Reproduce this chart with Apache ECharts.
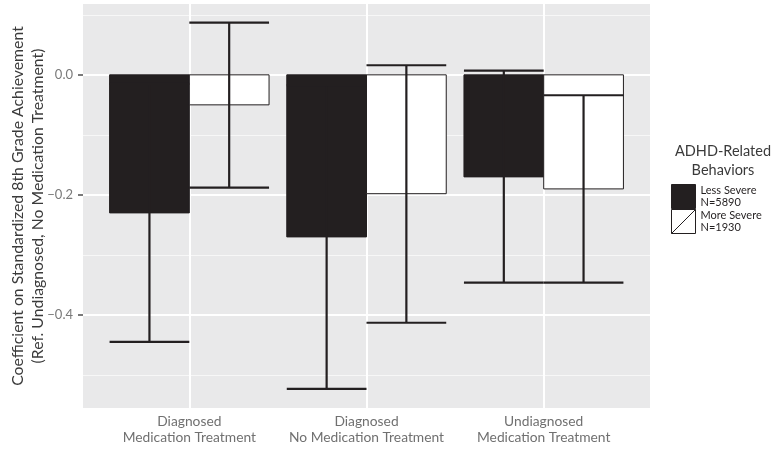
<!DOCTYPE html>
<html>
<head>
<meta charset="utf-8">
<script src="https://cdn.jsdelivr.net/npm/echarts@6/dist/echarts.min.js"></script>
<style>
  html, body { margin: 0; padding: 0; background: #fff; }
  #chart { width: 771px; height: 451px; }
</style>
</head>
<body>
<div id="chart"></div>
<script>
// categories and estimates
const categories = [
  'Diagnosed\nMedication Treatment',
  'Diagnosed\nNo Medication Treatment',
  'Undiagnosed\nMedication Treatment'
]
const categoryPos = [1, 2, 3]
const lessSevere = [-0.23, -0.27, -0.17]
const lessLower = [-0.445, -0.523, -0.346]
const lessUpper = [-0.015, -0.017, 0.007]
const moreSevere = [-0.05, -0.198, -0.19]
const moreLower = [-0.188, -0.413, -0.346]
const moreUpper = [0.087, 0.016, -0.034]
const majorTicks = [0, -0.2, -0.4]
const minorTicks = [0.1, -0.1, -0.3, -0.5]

const lessName = 'Less Severe\nN=5890'
const moreName = 'More Severe\nN=1930'
const ink = '#231f20'
const dodge = 0.225
const barW = 0.45

const chart = echarts.init(document.getElementById('chart'))

// bar drawn from 0 to value, shifted by offset inside the category
const barRenderer = (offset, fill) => (params, api) => {
  const x = api.value(0) + offset
  const p0 = api.coord([x - barW / 2, 0])
  const p1 = api.coord([x + barW / 2, api.value(1)])
  return {
    type: 'rect',
    shape: { x: p0[0], y: Math.min(p0[1], p1[1]), width: p1[0] - p0[0], height: Math.abs(p1[1] - p0[1]) },
    style: { fill: fill, stroke: ink, lineWidth: 1 }
  }
}

const errRenderer = (offset) => (params, api) => {
  const x = api.value(0) + offset
  const lo = api.coord([x, api.value(1)])
  const hi = api.coord([x, api.value(2)])
  const half = api.size([barW, 0])[0] / 2
  const st = { stroke: ink, lineWidth: 2.2 }
  return {
    type: 'group',
    children: [
      { type: 'line', shape: { x1: lo[0], y1: lo[1], x2: hi[0], y2: hi[1] }, style: st },
      { type: 'line', shape: { x1: lo[0] - half, y1: lo[1], x2: lo[0] + half, y2: lo[1] }, style: st },
      { type: 'line', shape: { x1: hi[0] - half, y1: hi[1], x2: hi[0] + half, y2: hi[1] }, style: st }
    ]
  }
}

const fmtY = (v) => (Math.abs(v) < 1e-9 ? '0.0' : v.toFixed(1).replace('-', '\u2212'))

const option = {
  animation: false,
  backgroundColor: '#ffffff',
  textStyle: { fontFamily: 'Lato, "Open Sans", sans-serif' },
  title: {
    text: 'ADHD-Related\nBehaviors',
    left: 718,
    top: 137,
    textAlign: 'center',
    textStyle: { fontSize: 14.5, fontWeight: 'normal', color: '#3a3a3a', lineHeight: 19, fontFamily: 'Lato' }
  },
  legend: {
    orient: 'vertical',
    left: 671,
    top: 184,
    padding: 0,
    itemGap: 0,
    itemWidth: 24,
    itemHeight: 24,
    textStyle: { fontSize: 11, lineHeight: 12.5, color: ink, fontFamily: 'Lato' },
    data: [
      { name: lessName, icon: 'rect', itemStyle: { color: ink, borderColor: ink, borderWidth: 1 } },
      { name: moreName, icon: 'path://M0,0L24,0L24,24L0,24Z M0,24L24,0', itemStyle: { color: '#ffffff', borderColor: ink, borderWidth: 1 } }
    ]
  },
  grid: {
    left: 83,
    right: 121,
    top: 4,
    bottom: 43,
    outerBoundsMode: 'none',
    containLabel: false,
    show: true,
    backgroundColor: '#e9e9ea',
    borderWidth: 0
  },
  xAxis: {
    type: 'value',
    min: 0.4,
    max: 3.6,
    axisLine: { show: false },
    splitLine: { show: false },
    axisTick: { show: false },
    axisLabel: {
      customValues: categoryPos,
      formatter: (v) => categories[Math.round(v) - 1],
      fontSize: 13.8,
      lineHeight: 16,
      color: '#707070',
      margin: 6
    }
  },
  yAxis: {
    type: 'value',
    min: -0.555,
    max: 0.118,
    name: 'Coefficient on Standardized 8th Grade Achievement\n(Ref. Undiagnosed, No Medication Treatment)',
    nameLocation: 'middle',
    nameRotate: 90,
    nameGap: 35,
    nameMoveOverlap: false,
    nameTextStyle: { fontSize: 15.8, lineHeight: 20, color: '#3a3a3a' },
    axisLine: { show: false },
    splitLine: { show: false },
    axisTick: { show: true, customValues: majorTicks, length: 5, lineStyle: { color: '#7a7a7a', width: 2 } },
    axisLabel: {
      customValues: majorTicks,
      formatter: fmtY,
      fontSize: 13,
      color: '#7a7a7a',
      margin: 10
    }
  },
  series: [
    {
      type: 'line',
      name: 'grid',
      data: [],
      silent: true,
      z: 1,
      markLine: {
        silent: true,
        z: 1,
        symbol: 'none',
        label: { show: false },
        data: [
          ...minorTicks.map((v) => ({ yAxis: v, lineStyle: { color: '#f7f7f7', width: 1, type: 'solid' } })),
          ...majorTicks.map((v) => ({ yAxis: v, lineStyle: { color: '#ffffff', width: 2, type: 'solid' } })),
          ...categoryPos.map((v) => ({ xAxis: v, lineStyle: { color: '#ffffff', width: 2, type: 'solid' } }))
        ]
      }
    },
    {
      type: 'custom',
      name: lessName,
      z: 10,
      itemStyle: { color: ink },
      renderItem: barRenderer(-dodge, ink),
      data: categoryPos.map((c, i) => [c, lessSevere[i]])
    },
    {
      type: 'custom',
      name: moreName,
      z: 10,
      itemStyle: { color: '#ffffff' },
      renderItem: barRenderer(dodge, '#ffffff'),
      data: categoryPos.map((c, i) => [c, moreSevere[i]])
    },
    {
      type: 'custom',
      name: 'lessErr',
      z: 11,
      renderItem: errRenderer(-dodge),
      data: categoryPos.map((c, i) => [c, lessLower[i], lessUpper[i]])
    },
    {
      type: 'custom',
      name: 'moreErr',
      z: 11,
      renderItem: errRenderer(dodge),
      data: categoryPos.map((c, i) => [c, moreLower[i], moreUpper[i]])
    }
  ]
}

chart.setOption(option)
</script>
</body>
</html>
